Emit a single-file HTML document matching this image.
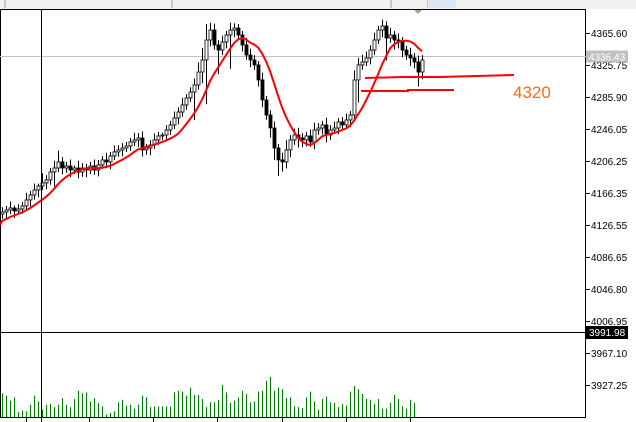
<!DOCTYPE html>
<html><head><meta charset="utf-8"><style>
html,body{margin:0;padding:0;background:#fff;}
svg{display:block;font-family:"Liberation Sans",sans-serif;}
</style></head><body>
<svg id="chart" width="636" height="422" viewBox="0 0 636 422" xmlns="http://www.w3.org/2000/svg">
<rect x="0" y="0" width="636" height="9" fill="#f0f0f0"/>
<g stroke="#a0a0a0">
<line x1="5" y1="0" x2="5" y2="8"/><line x1="172" y1="0" x2="172" y2="8"/><line x1="391" y1="0" x2="391" y2="8"/><line x1="428" y1="0" x2="428" y2="8"/>
</g>
<rect x="428" y="0" width="28" height="8" fill="#dbe7f3"/>
<rect x="0.5" y="9.5" width="585" height="408" fill="none" stroke="#000"/>
<polygon points="414,10 422,10 418,14" fill="#a0a0a0"/>
<g id="grid"></g>
<g id="vol"></g>
<g id="candles"></g>
<g id="ma"></g>
<g stroke="#f00" stroke-width="2">
<polyline points="365,78 403,77 440,77 477,76 514,75" fill="none"/>
<polyline points="361,91 408,91 408,90 454,90" fill="none"/>
</g>
<text x="513" y="98" font-size="17" fill="#ff6a13">4320</text>
<line x1="41.5" y1="10" x2="41.5" y2="422" stroke="#000"/>
<line x1="0" y1="332.5" x2="586" y2="332.5" stroke="#000"/>
<g id="axis"></g>
</svg>
<script>
const preCloses=[4120.3,4122.8,4125.3,4127.8,4130.3,4132.8,4135.3,4137.8,4140.2];
const closes=[4142.7,4145.2,4147.7,4144.0,4146.5,4150.2,4157.7,4163.9,4170.1,4175.1,
4178.9,4182.6,4192.5,4197.5,4205.0,4197.5,4200.0,4195.0,4197.5,4192.5,
4197.5,4195.0,4200.0,4195.0,4201.3,4207.5,4205.0,4212.5,4217.5,4220.0,
4222.4,4224.9,4229.9,4232.4,4234.9,4220.0,4222.4,4226.2,4232.4,4237.4,
4238.6,4244.8,4251.1,4259.8,4267.2,4276.0,4284.7,4292.1,4300.9,4317.0,
4332.0,4356.9,4369.3,4350.7,4344.4,4354.4,4363.1,4369.3,4371.8,4363.1,
4350.7,4338.2,4332.0,4325.8,4307.1,4282.2,4263.5,4247.3,4222.4,4207.5,
4205.0,4220.0,4232.4,4238.6,4234.9,4232.4,4237.4,4229.9,4244.8,4247.3,
4251.1,4238.6,4244.8,4247.3,4254.8,4251.1,4257.3,4263.5,4307.1,4325.8,
4329.5,4334.5,4344.4,4356.9,4369.3,4374.3,4359.4,4363.1,4356.9,4354.4,
4344.4,4338.2,4334.5,4329.5,4317.0,4332.0];
const highExt=[6,5,8,3,6,5,9,5,8,3,12,6,5,9,14,6,5,8,3,9,6,5,5,8,6,5,9,5,8,6,
6,5,5,9,6,8,5,6,8,5,3,6,5,8,6,9,5,6,8,12,15,20,9,8,6,8,5,9,6,5,
5,9,8,6,5,9,5,6,8,5,9,12,6,8,9,6,5,8,9,6,5,9,6,8,5,6,8,5,12,9,
9,8,6,9,5,8,6,9,5,8,6,5,9,6,8,6];
const lowExt=[6,8,5,9,3,6,5,8,6,9,5,8,6,18,5,8,6,9,5,8,6,9,5,6,8,5,6,9,5,6,
8,5,6,5,9,8,6,9,5,6,5,8,6,5,8,6,6,5,35,6,14,55,8,6,30,6,8,42,9,6,
8,6,9,6,8,9,6,12,15,20,12,8,9,6,12,9,8,6,9,6,8,9,6,5,8,6,5,9,8,28,
6,5,8,6,5,9,28,6,12,8,9,6,10,8,18,9];
const volumes=[29,26,20,24,6,8,7,15,26,19,9,15,16,12,15,23,15,12,22,32,
29,30,19,23,17,13,3,5,7,18,21,14,15,10,15,26,24,12,13,13,13,13,13,30,
32,31,26,36,27,27,22,12,18,18,21,39,30,17,20,24,32,28,18,19,31,32,44,
49,32,36,34,23,24,13,12,11,24,31,19,9,22,25,18,17,12,16,14,31,38,34,
28,22,21,16,22,10,10,17,27,22,13,10,21,17];
const priceTicks=["4365.60","4325.75","4285.90","4246.05","4206.25","4166.35","4126.55","4086.65","4046.80","4006.95","3967.10","3927.25"];
const currentPrice=4336.43;
const crossPrice=3991.98;
const maPeriod=10;

const NS="http://www.w3.org/2000/svg";
function mk(tag,attrs,parent){const e=document.createElementNS(NS,tag);for(const k in attrs)e.setAttribute(k,attrs[k]);parent.appendChild(e);return e;}
const yOf=p=>33+(4365.6-p)*0.803;
const xOf=i=>2+i*4;
const volY=v=>417-v*0.82;

const axis=document.getElementById('axis');
priceTicks.forEach(t=>{
  const y=Math.round(yOf(parseFloat(t)))+0.5;
  const tk=mk('line',{x1:586,y1:y,x2:590,y2:y,stroke:'#000'},axis);
  
  
  const tx=mk('text',{x:591,y:y+3.5,'font-size':10,fill:'#000'},axis);
  tx.textContent=t;
  
  
});
const cy=Math.round(yOf(currentPrice))+0.5;
const cl=mk('line',{x1:0,y1:cy,x2:586,y2:cy,stroke:'#c0c0c0'},document.getElementById('grid'));


const cr=mk('rect',{x:586,y:cy-6,width:42,height:12,fill:'#c0c0c0'},axis);


const ct=mk('text',{x:589,y:cy+4,'font-size':10,fill:'#fff'},axis);
ct.textContent=currentPrice.toFixed(2);


const xr=mk('rect',{x:586,y:326,width:42,height:13,fill:'#000'},axis);


const xt=mk('text',{x:589,y:336,'font-size':10,fill:'#fff'},axis);
xt.textContent=crossPrice.toFixed(2);


[26,89,153,217,282,346,410].forEach(x=>{
  const l=mk('line',{x1:x+0.5,y1:418,x2:x+0.5,y2:422,stroke:'#000'},axis);
  
  
});

const cg=document.getElementById('candles');
closes.forEach((c,i)=>{
  const o=i===0?preCloses[preCloses.length-1]:closes[i-1];
  const hi=Math.max(o,c)+highExt[i], lo=Math.min(o,c)-lowExt[i];
  const x=xOf(i);
  const w=mk('line',{x1:x+0.5,y1:yOf(hi),x2:x+0.5,y2:yOf(lo),stroke:'#000'},cg);
  
  
  const top=yOf(Math.max(o,c)), bot=yOf(Math.min(o,c));
  const b=mk('rect',{x:x-1,y:top,width:3,height:Math.max(1,bot-top),fill:c>=o?'#fff':'#000',stroke:'#000','stroke-width':0.8},cg);
  
  
});

const all=preCloses.concat(closes);
const pts=closes.map((c,i)=>{
  const k=i+preCloses.length;
  let s=0;for(let j=k-maPeriod+1;j<=k;j++)s+=all[j];
  return xOf(i)+','+yOf(s/maPeriod).toFixed(1);
});
const ma=mk('polyline',{points:'0,'+yOf(4126.6).toFixed(1)+' '+pts.join(' '),fill:'none',stroke:'#f00','stroke-width':2},document.getElementById('ma'));



const vg=document.getElementById('vol');
volumes.forEach((v,i)=>{
  const x=xOf(i);
  const l=mk('line',{x1:x+0.5,y1:417,x2:x+0.5,y2:volY(v),stroke:'#008000'},vg);
  
  
});
</script>
</body></html>
